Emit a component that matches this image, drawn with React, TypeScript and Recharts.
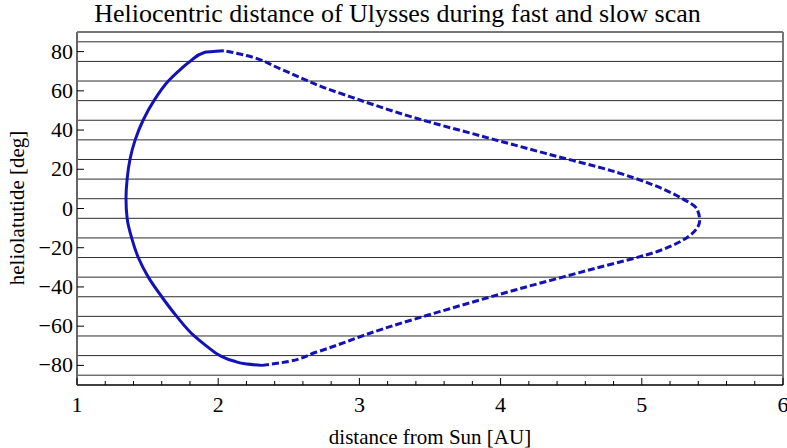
import React from 'react';
import { LineChart, Line, XAxis, YAxis, ReferenceLine } from 'recharts';

// solid branch: top of orbit, round the perihelion, down to the south pole
const solidX = [2.04, 1.906, 1.8, 1.715, 1.647, 1.545, 1.468, 1.412, 1.375, 1.355, 1.347, 1.355, 1.387, 1.434, 1.505, 1.6, 1.706, 1.83, 1.92, 2.013, 2.11, 2.202, 2.31];
const solidY = [80.5, 79.7, 75, 69.8, 65, 55, 45, 35, 25, 15, 5, -5, -15, -25, -35, -45, -55, -65, -70.3, -75, -77.8, -79.3, -80];

// dashed branch: south pole out to aphelion and back up to the north pole
const dashedX = [2.31, 2.45, 2.697, 3.17, 3.64, 4.11, 4.66, 5.13, 5.34, 5.41, 5.39, 5.29, 5.06, 4.82, 4.33, 3.85, 3.38, 2.91, 2.744, 2.44, 2.2, 2.04];
const dashedY = [-80, -78.6, -73.2, -61.3, -51.1, -41.4, -30.7, -21.4, -13.8, -6.1, -0.2, 4.9, 12.6, 18.5, 27.9, 37.2, 46.5, 57.6, 61.8, 71.2, 78, 80.5];

const xTicks = [1, 1.2, 1.4, 1.6, 1.8, 2, 2.2, 2.4, 2.6, 2.8, 3, 3.2, 3.4, 3.6, 3.8, 4, 4.2, 4.4, 4.6, 4.8, 5, 5.2, 5.4, 5.6, 5.8, 6];
const yTicks = [-80, -60, -40, -20, 0, 20, 40, 60, 80];
const gridLevels = [-85, -75, -65, -55, -45, -35, -25, -15, -5, 5, 15, 25, 35, 45, 55, 65, 75, 85];

const solidData = solidX.map((x, i) => ({ x, y: solidY[i] }));
const dashedData = dashedX.map((x, i) => ({ x, y: dashedY[i] }));

const FONT = 'Liberation Serif';
const CURVE = '#1212b8';

const XTick = (props: any) => {
  const { x, y, payload } = props;
  const major = Number.isInteger(payload.value);
  return (
    <g>
      <line x1={x} x2={x} y1={y} y2={y - (major ? 7 : 4)} stroke="#000" strokeWidth={1} />
      {major && (
        <text x={x} y={y + 27} textAnchor="middle" fontFamily={FONT} fontSize={22} fill="#000">
          {String(payload.value)}
        </text>
      )}
    </g>
  );
};

const YTick = (props: any) => {
  const { x, y, payload } = props;
  const v = payload.value;
  const label = v < 0 ? '\u2212' + Math.abs(v) : String(v);
  return (
    <g>
      <line x1={x} x2={x + 7} y1={y} y2={y} stroke="#000" strokeWidth={1} />
      <text x={x - 4} y={y + 7} textAnchor="end" fontFamily={FONT} fontSize={22} fill="#000">
        {label}
      </text>
    </g>
  );
};

export default function App() {
  return (
    <div style={{ position: 'absolute', left: 0, top: 0, width: 787, height: 448, background: '#fff', fontFamily: FONT }}>
      <div
        style={{
          position: 'absolute',
          left: 4,
          width: 787,
          top: -1,
          textAlign: 'center',
          fontSize: 26,
          lineHeight: '30px',
          color: '#000',
        }}
      >
        Heliocentric distance of Ulysses during fast and slow scan
      </div>
      <div
        style={{
          position: 'absolute',
          left: 17,
          top: 208,
          transform: 'translate(-50%, -50%) rotate(-90deg)',
          whiteSpace: 'nowrap',
          fontSize: 21,
          color: '#000',
        }}
      >
        heliolatutide [deg]
      </div>
      <div
        style={{
          position: 'absolute',
          left: 430,
          top: 437,
          transform: 'translate(-50%, -50%)',
          whiteSpace: 'nowrap',
          fontSize: 21,
          color: '#000',
        }}
      >
        distance from Sun [AU]
      </div>
      <div style={{ position: 'absolute', left: 0, top: 0, fontFamily: FONT }}>
        <LineChart width={787} height={448} margin={{ top: 32, right: 4, left: 0, bottom: 0 }} style={{ fontFamily: FONT }}>
          <XAxis
            dataKey="x"
            type="number"
            domain={[1, 6]}
            ticks={xTicks}
            interval={0}
            allowDataOverflow
            height={63}
            tickSize={0}
            tickMargin={0}
            tickLine={false}
            tick={XTick}
            axisLine={{ stroke: '#000', strokeWidth: 1.5 }}
          />
          <YAxis
            dataKey="y"
            type="number"
            domain={[-90, 90]}
            ticks={yTicks}
            interval={0}
            allowDataOverflow
            width={77}
            tickSize={0}
            tickMargin={0}
            tickLine={false}
            tick={YTick}
            axisLine={{ stroke: '#666', strokeWidth: 2 }}
          />
          {gridLevels.map((v) => (
            <ReferenceLine key={v} y={v} stroke="#2e2e2e" strokeWidth={1} />
          ))}
          <ReferenceLine y={90} stroke="#777" strokeWidth={2} />
          <ReferenceLine x={6} stroke="#777" strokeWidth={2} />
          <Line
            data={solidData}
            dataKey="y"
            type="monotoneY"
            stroke={CURVE}
            strokeWidth={3}
            dot={false}
            isAnimationActive={false}
          />
          <Line
            data={dashedData}
            dataKey="y"
            type="monotoneY"
            stroke={CURVE}
            strokeWidth={3}
            strokeDasharray="7 3"
            dot={false}
            isAnimationActive={false}
          />
        </LineChart>
      </div>
    </div>
  );
}
